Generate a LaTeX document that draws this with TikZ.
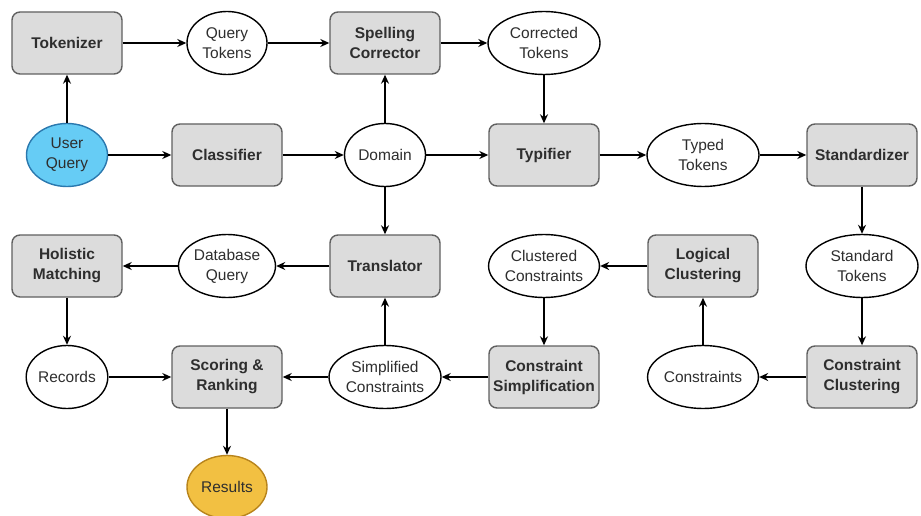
\documentclass[tikz,border=0pt]{standalone}
\usepackage{fontspec}
\setmainfont{Liberation Sans}
\usetikzlibrary{shapes.geometric,arrows.meta}
\definecolor{boxfill}{HTML}{DCDCDC}
\definecolor{boxline}{HTML}{606060}
\definecolor{txt}{HTML}{2E2E2E}
\definecolor{bluefill}{HTML}{66CCF5}
\definecolor{blueline}{HTML}{2A78AE}
\definecolor{orfill}{HTML}{F2C042}
\definecolor{orline}{HTML}{B8841C}
\tikzset{
  procbox/.style={rectangle, rounded corners=8pt, draw=boxline, fill=boxfill, line width=1.4pt,
    minimum width=110pt, minimum height=62pt, inner sep=0pt, align=center,
    font=\fontsize{15.5}{20}\selectfont\bfseries, text=txt},
  dataell/.style={ellipse, draw=black, fill=white, line width=1.4pt,
    minimum height=63pt, inner sep=0pt, align=center,
    font=\fontsize{15.5}{20}\selectfont, text=txt},
  conn/.style={line width=1.4pt, -{Stealth[length=9pt,width=8pt]}}
}
\begin{document}
\begin{tikzpicture}[x=1pt,y=-1pt]
\useasboundingbox (0,0) rectangle (921,516);
% boxes
\node[procbox] (tok) at (67,43) {Tokenizer};
\node[procbox] (spell) at (385,43) {Spelling\\Corrector};
\node[procbox] (class) at (227,155) {Classifier};
\node[procbox] (typ) at (544,155) {Typifier};
\node[procbox] (std) at (862,155) {Standardizer};
\node[procbox] (hol) at (67,266) {Holistic\\Matching};
\node[procbox] (trans) at (385,266) {Translator};
\node[procbox] (logc) at (703,266) {Logical\\Clustering};
\node[procbox] (score) at (227,377) {Scoring \&\\Ranking};
\node[procbox] (csimp) at (544,377) {Constraint\\Simplification};
\node[procbox] (cclus) at (862,377) {Constraint\\Clustering};
% ellipses
\node[dataell, minimum width=80pt] (qtok) at (227,43) {Query\\Tokens};
\node[dataell, minimum width=112pt] (ctok) at (544,43) {Corrected\\Tokens};
\node[dataell, minimum width=81pt, fill=bluefill, draw=blueline] (uq) at (67,155) {User\\Query};
\node[dataell, minimum width=81pt] (dom) at (385,155) {Domain};
\node[dataell, minimum width=112pt] (ttok) at (703,155) {Typed\\Tokens};
\node[dataell, minimum width=97pt] (dbq) at (227,266) {Database\\Query};
\node[dataell, minimum width=97pt] (clc) at (544,266) {Clustered\\Constraints};
\node[dataell, minimum width=112pt] (stok) at (862,266) {Standard\\Tokens};
\node[dataell, minimum width=80pt] (rec) at (67,377) {Records};
\node[dataell, minimum width=112pt] (simc) at (385,377) {Simplified\\Constraints};
\node[dataell, minimum width=97pt] (cons) at (703,377) {Constraints};
\node[dataell, minimum width=80pt, fill=orfill, draw=orline] (res) at (227,487) {Results};
% connectors
\draw[conn] (uq) -- (tok);
\draw[conn] (tok) -- (qtok);
\draw[conn] (qtok) -- (spell);
\draw[conn] (spell) -- (ctok);
\draw[conn] (ctok) -- (typ);
\draw[conn] (uq) -- (class);
\draw[conn] (class) -- (dom);
\draw[conn] (dom) -- (spell);
\draw[conn] (dom) -- (typ);
\draw[conn] (typ) -- (ttok);
\draw[conn] (ttok) -- (std);
\draw[conn] (dom) -- (trans);
\draw[conn] (std) -- (stok);
\draw[conn] (stok) -- (cclus);
\draw[conn] (cclus) -- (cons);
\draw[conn] (cons) -- (logc);
\draw[conn] (logc) -- (clc);
\draw[conn] (clc) -- (csimp);
\draw[conn] (csimp) -- (simc);
\draw[conn] (simc) -- (trans);
\draw[conn] (simc) -- (score);
\draw[conn] (trans) -- (dbq);
\draw[conn] (dbq) -- (hol);
\draw[conn] (hol) -- (rec);
\draw[conn] (rec) -- (score);
\draw[conn] (score) -- (res);
\end{tikzpicture}
\end{document}
